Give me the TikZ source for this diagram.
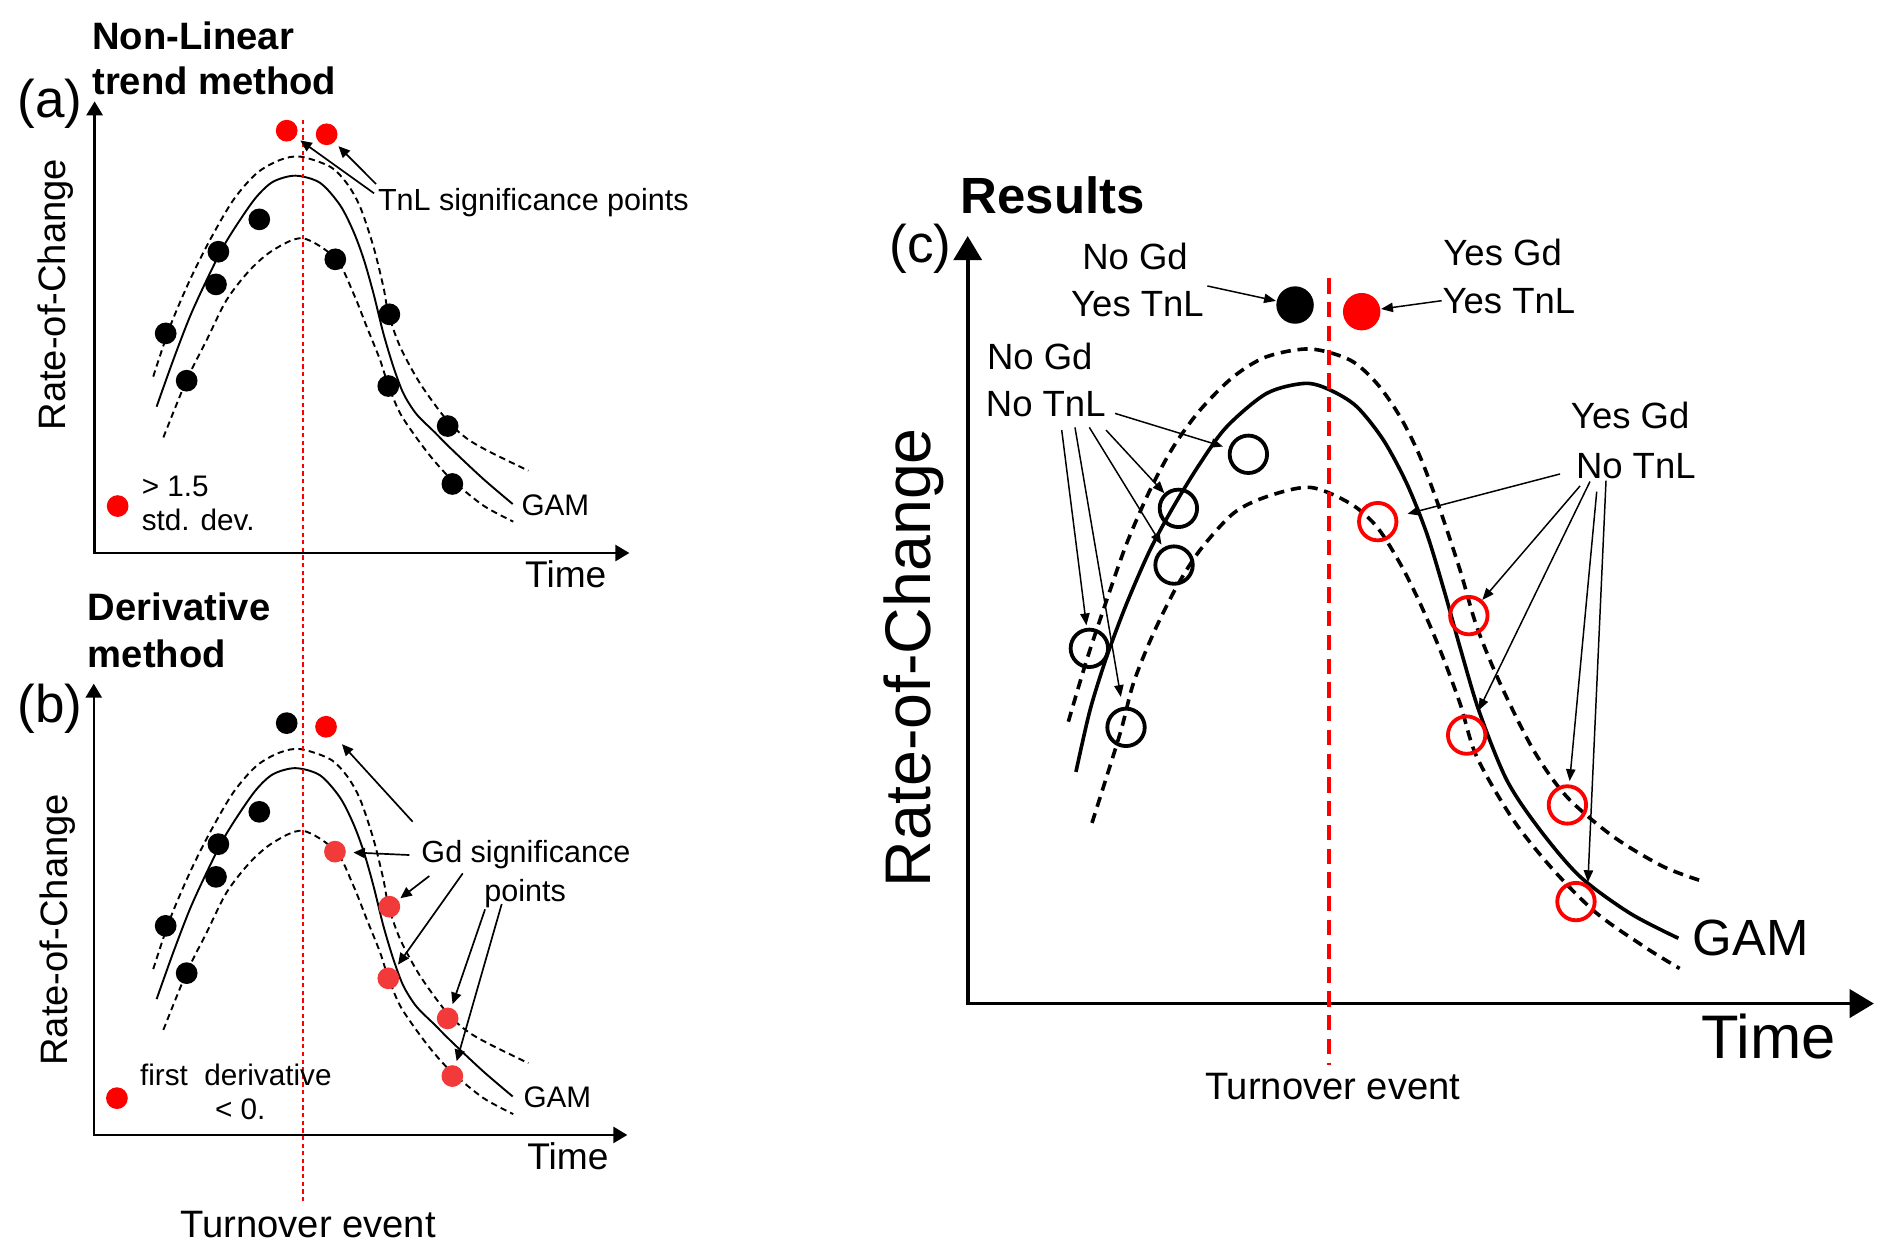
\documentclass[tikz,border=0pt]{standalone}
\usepackage{fontspec}
\setmainfont{Liberation Sans}
\usetikzlibrary{arrows.meta}

\definecolor{sigred}{RGB}{255, 0, 0}
\definecolor{gdred}{RGB}{242, 58, 58}

\tikzset{
  % dots and rings
  bdot/.style={circle, fill=black, inner sep=0pt, minimum size=0.18cm},
  rdot/.style={bdot, fill=sigred},
  gdot/.style={bdot, fill=gdred},
  bigbdot/.style={circle, fill=black, inner sep=0pt, minimum size=0.31cm},
  bigrdot/.style={bigbdot, fill=sigred},
  bring/.style={circle, draw=black, line width=0.9pt, inner sep=0pt, minimum size=0.31cm},
  rring/.style={bring, draw=sigred},
  % curves
  gam/.style={line width=0.45pt},
  band/.style={line width=0.45pt, dash pattern=on 1.5pt off 1pt},
  cgam/.style={line width=0.85pt},
  cband/.style={line width=0.85pt, dash pattern=on 2.4pt off 1.6pt},
  turnA/.style={sigred, line width=0.5pt, dash pattern=on 1pt off 0.8pt},
  turnC/.style={sigred, line width=0.9pt, dash pattern=on 3.6pt off 2pt},
  % axes and pointers
  axis/.style={line width=0.55pt, {Triangle[length=3.3pt,width=3.8pt]}-{Triangle[length=3.3pt,width=3.8pt]}},
  bigaxis/.style={line width=0.9pt, {Triangle[length=5.7pt,width=6.6pt]}-{Triangle[length=5.7pt,width=6.6pt]}},
  ptr/.style={line width=0.4pt, -{Triangle[length=2.7pt,width=2.4pt]}},
  cptr/.style={line width=0.35pt, -{Triangle[length=2.8pt,width=2.2pt]}},
  % texts
  headtxt/.style={font=\bfseries\fontsize{9}{10.8}\selectfont, inner sep=0pt, text height=6.5pt, text depth=0pt},
  paneltxt/.style={font=\fontsize{12.5}{15}\selectfont, inner sep=0pt},
  ytxt/.style={font=\fontsize{9}{10.8}\selectfont, rotate=90, inner sep=0pt},
  axtxt/.style={font=\fontsize{8.75}{10.5}\selectfont, inner sep=0pt, text height=6.3pt, text depth=0pt},
  notetxt/.style={font=\fontsize{7.2}{8.6}\selectfont, inner sep=0pt, text height=5.2pt, text depth=0pt},
  legtxt/.style={font=\fontsize{7}{8.4}\selectfont, inner sep=0pt, text height=5pt, text depth=0pt},
  turntxt/.style={font=\fontsize{9}{10.8}\selectfont, inner sep=0pt, text height=6.5pt, text depth=0pt},
  restxt/.style={font=\fontsize{8.6}{10.3}\selectfont, inner sep=0pt, text height=6.2pt, text depth=0pt},
  bighead/.style={font=\bfseries\fontsize{12}{14.4}\selectfont, inner sep=0pt, text height=8.6pt, text depth=0pt},
  bigy/.style={font=\fontsize{15.2}{18}\selectfont, rotate=90, inner sep=0pt},
  bigx/.style={font=\fontsize{14.5}{17}\selectfont, inner sep=0pt, text height=10.4pt, text depth=0pt},
  gamtxt/.style={font=\fontsize{12}{14.4}\selectfont, inner sep=0pt, text height=8.6pt, text depth=0pt}
}

\begin{document}
\begin{tikzpicture}[x=0.01cm, y=-0.01cm]
    \useasboundingbox (0,0) rectangle (1568,1042);

    % Panel (a) and (b): GAM with bands (b is (a) moved down)
    \foreach \dy in {0,491} {
      \begin{scope}[shift={(0,\dy)}]
        \draw[band] plot[smooth] coordinates {(127,312.1) (140.9,270.7) (157.4,232) (174,198.9) (193.4,165.7) (212.7,143.6) (232,132.6) (249,129.8) (273.5,138.1) (287.4,151.9) (298.4,171.3) (309.5,204.4) (317.7,237.6) (322,260) (331.6,287.3) (348.1,317.7) (370.2,348) (386.8,363.3) (405,374) (437.9,390.1)};
        \draw[gam] plot[smooth] coordinates {(129.8,337) (143.6,298.3) (157.4,262.4) (171.3,232) (185.1,204.4) (198.9,182.3) (212.7,163) (226.5,150.5) (245,145.6) (265.2,151.5) (281.8,170) (293,192) (301.5,215) (309.5,243.1) (317.7,276.2) (326,303.9) (334.3,326) (345,343) (360,358) (375,373) (400.6,397) (424.9,417.7)};
        \draw[band] plot[smooth] coordinates {(135.4,362.5) (154.7,314.9) (171.3,281.8) (187.8,248.6) (207.2,223.7) (226.5,207.2) (251,197.5) (278.5,214.6) (292.9,243.1) (303.9,270.7) (315,298.3) (321.9,319.6) (331.6,342.5) (345.3,363) (359.1,381) (374.9,398) (400.6,419) (425.4,432.3)};
      \end{scope}
    }

    % Panel (a) axes
    \draw[axis] (78.4,84) -- (78.4,458.3) -- (521.6,458.3);
    % Panel (b) axes
    \draw[axis] (77.7,566.6) -- (77.7,940.6) -- (519.9,940.6);

    % Turnover event line through (a) and (b)
    \draw[turnA] (250.8,99.5) -- (250.8,996);

    % Panel (a) dots
    \node[rdot] (aR1) at (237.6,108.3) {};
    \node[rdot] (aR2) at (270.7,111.3) {};
    \foreach \n/\x/\y in {1/137.3/276.3, 2/154.7/315.5, 3/181/208.6, 4/179/235.7, 5/214.9/181.8,
                          6/277.9/214.9, 7/322.7/260.5, 8/321.8/319.9, 9/371/353.1, 10/374.9/401.1}
      \node[bdot] (aB\n) at (\x,\y) {};
    \node[rdot] (aLeg) at (97.5,419.4) {};

    % Panel (b) dots
    \node[bdot] (bB0) at (237.6,599.3) {};
    \node[rdot] (bR0) at (270.2,602.3) {};
    \foreach \n/\x/\y in {1/137.3/767.3, 2/154.7/806.5, 3/181/699.6, 4/179/726.7, 5/214.9/672.8}
      \node[bdot] (bB\n) at (\x,\y) {};
    \foreach \n/\x/\y in {1/277.6/705.8, 2/322.7/751.4, 3/321.8/810.8, 4/371/844, 5/374.9/891.8}
      \node[gdot] (bG\n) at (\x,\y) {};
    \node[rdot] (bLeg) at (96.9,910.1) {};

    % Panel (a) texts
    \node[headtxt, anchor=west] (aHead1) at (75.8,29.2) {Non-Linear};
    \node[headtxt, anchor=west] (aHead2) at (75.8,66.6) {trend method};
    \node[paneltxt] (aTag) at (41.6,86.4) {(a)};
    \node[ytxt] (aY) at (46.5,244.2) {Rate-of-Change};
    \node[axtxt] (aX) at (468.9,475.7) {Time};
    \node[notetxt, anchor=west] (aNote) at (312.6,165.6) {TnL significance points};
    \node[legtxt, anchor=west] (aLeg1) at (116.8,402.8) {> 1.5};
    \node[legtxt, anchor=west] (aLeg2) at (116.8,431) {std. dev.};
    \node[legtxt, anchor=west] (aGam) at (431.5,418.5) {GAM};

    % Panel (b) texts
    \node[headtxt, anchor=west] (bHead1) at (72.1,502.9) {Derivative};
    \node[headtxt, anchor=west] (bHead2) at (72.1,541.5) {method};
    \node[paneltxt] (bTag) at (41.6,587) {(b)};
    \node[ytxt] (bY) at (47.5,770.6) {Rate-of-Change};
    \node[axtxt] (bX) at (470.7,958.4) {Time};
    \node[notetxt, anchor=west] (bNote1) at (348.6,705.8) {Gd significance};
    \node[notetxt] (bNote2) at (435.2,737.6) {points};
    \node[legtxt, anchor=west] (bLeg1) at (115.4,890.4) {first\ \ derivative};
    \node[legtxt, anchor=west] (bLeg2) at (177.6,919) {< 0.};
    \node[legtxt, anchor=west] (bGam) at (433.2,908.9) {GAM};
    \node[turntxt] (bTurn) at (255.3,1013.9) {Turnover event};

    % Pointers (a)
    \coordinate (aS1) at (310,160.2);
    \coordinate (aS2) at (311.6,152.5);
    \draw[ptr, shorten >=1.2pt] (aS1) -- (aR1);
    \draw[ptr, shorten >=1.2pt] (aS2) -- (aR2);

    % Pointers (b)
    \coordinate (bS1) at (342,681);
    \coordinate (bS2) at (339.2,708.6);
    \coordinate (bS3) at (355.8,726);
    \coordinate (bS4) at (383.5,723.8);
    \coordinate (bS5) at (402,753.6);
    \coordinate (bS6) at (415.8,749.2);
    \draw[ptr, shorten >=2.8pt] (bS1) -- (bR0);
    \draw[ptr, shorten >=1.6pt] (bS2) -- (bG1);
    \draw[ptr, shorten >=0.5pt] (bS3) -- (bG2);
    \draw[ptr, shorten >=1.2pt] (bS4) -- (bG3);
    \draw[ptr, shorten >=0.8pt] (bS5) -- (bG4);
    \draw[ptr, shorten >=0.9pt] (bS6) -- (bG5);

    % Panel (c) curves
    \draw[cband] plot[smooth] coordinates {(885.4,598.1) (900.6,547) (917.2,497.3) (933.8,450.3) (953.1,406.1) (972.5,370.2) (994.6,339.8) (1022.2,312.2) (1049.8,295.6) (1085.7,289.2) (1118.9,298.4) (1141,317.7) (1160.3,345.3) (1176.9,378.5) (1193.5,422.7) (1210,472.4) (1223.9,519.4) (1243.2,566.3) (1270.8,621.5) (1298.4,660.2) (1337.1,693.4) (1378.5,718.2) (1411.7,730.6)};
    \draw[cgam] plot[smooth] coordinates {(891.7,639.7) (903.4,588.4) (917.2,544.2) (933.8,500) (953.1,455.8) (972.5,419.9) (994.6,384) (1016.7,353.6) (1049.8,326) (1081.6,317.7) (1102.3,323.2) (1124.4,337) (1146.5,364.7) (1165.8,400.6) (1182.4,442) (1197,490) (1211,540) (1226,590) (1248.7,646.4) (1276.3,687.8) (1309.5,726.5) (1350.9,756.9) (1391,777.6)};
    \draw[cband] plot[smooth] coordinates {(905,682) (928.3,607.8) (939.3,566.3) (955.9,524.9) (975.2,486.2) (994.6,455.8) (1022.2,425.4) (1049.8,411.6) (1085.7,403.9) (1118.9,417.2) (1141,436.5) (1160.3,466.9) (1176.9,500) (1193.5,538.7) (1210,583) (1223.8,627.1) (1254.2,679.6) (1287.4,721) (1323.3,756.9) (1364.7,785.9) (1392,802.6)};

    % Panel (c) axes and turnover line
    \draw[bigaxis] (802,195.6) -- (802,831.7) -- (1553,831.7);
    \draw[turnC] (1101.7,230.7) -- (1101.7,882.6);

    % Panel (c) points
    \node[bigbdot] (cB) at (1073.3,252.8) {};
    \node[bigrdot] (cR) at (1128.5,258.3) {};
    \foreach \n/\x/\y in {1/1034.6/376.5, 2/976.6/421.3, 3/973/468.3, 4/902.8/537.3, 5/933.2/602.8}
      \node[bring] (cO\n) at (\x,\y) {};
    \foreach \n/\x/\y in {1/1141.8/432.3, 2/1217.3/510.2, 3/1215.5/609.2, 4/1299/667.1, 5/1306.1/747.2}
      \node[rring] (cC\n) at (\x,\y) {};

    % Panel (c) texts
    \node[bighead, anchor=west] (cHead) at (795.6,161.6) {Results};
    \node[paneltxt] (cTag) at (763,206) {(c)};
    \node[bigy] (cY) at (757,545) {Rate-of-Change};
    \node[bigx] (cX) at (1465.7,859.3) {Time};
    \node[gamtxt] (cGam) at (1451,776.4) {GAM};
    \node[turntxt] (cTurn) at (1104.5,900.1) {Turnover event};
    \node[restxt] (cL1) at (940.7,212.7) {No Gd};
    \node[restxt] (cL2) at (942.7,251.4) {Yes TnL};
    \node[restxt] (cL3) at (1245.3,209.4) {Yes Gd};
    \node[restxt] (cL4) at (1250.5,248.7) {Yes TnL};
    \node[restxt] (cL5) at (861.7,295.6) {No Gd};
    \node[restxt] (cL6) at (866.7,334.3) {No TnL};
    \node[restxt] (cL7) at (1351,344.5) {Yes Gd};
    \node[restxt] (cL8) at (1355.7,385.3) {No TnL};

    % Pointers (c)
    \coordinate (cS1) at (1000.6,237);
    \coordinate (cS2) at (1194.8,249.2);
    \coordinate (cS3) at (924.1,342.6);
    \coordinate (cS4) at (916.6,356.4);
    \coordinate (cS5) at (902.8,354.2);
    \coordinate (cS6) at (879.9,356.4);
    \coordinate (cS7) at (890.9,354.2);
    \coordinate (cS8) at (1292.9,392.8);
    \coordinate (cS9) at (1309.5,402.7);
    \coordinate (cS10) at (1317.7,399.1);
    \coordinate (cS11) at (1323.3,407.4);
    \coordinate (cS12) at (1331,398.3);
    \draw[cptr] (cS1) -- (cB);
    \draw[cptr] (cS2) -- (cR);
    \draw[cptr, shorten >=1.4pt] (cS3) -- (cO1);
    \draw[cptr] (cS4) -- (cO2);
    \draw[cptr, shorten >=0.8pt] (cS5) -- (cO3);
    \draw[cptr, shorten >=0.6pt] (cS6) -- (cO4);
    \draw[cptr, shorten >=2.4pt] (cS7) -- (cO5);
    \draw[cptr, shorten >=2.4pt] (cS8) -- (cC1);
    \draw[cptr] (cS9) -- (cC2);
    \draw[cptr, shorten >=1.6pt] (cS10) -- (cC3);
    \draw[cptr, shorten >=0.8pt] (cS11) -- (cC4);
    \draw[cptr, shorten >=0.6pt] (cS12) -- (cC5.55);
\end{tikzpicture}
\end{document}
